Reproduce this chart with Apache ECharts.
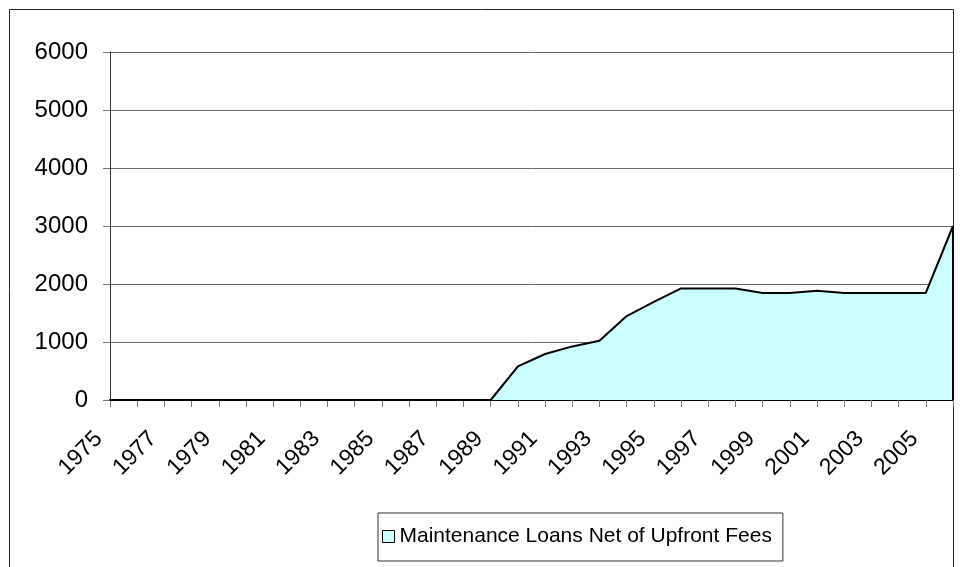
<!DOCTYPE html>
<html>
<head>
<meta charset="utf-8">
<script src="https://cdn.jsdelivr.net/npm/echarts@6/dist/echarts.min.js"></script>
<style>
html,body{margin:0;padding:0;background:#fff;}
#chart{width:960px;height:567px;}
</style>
</head>
<body>
<div id="chart"></div>
<script>
const years = ['1975','1976','1977','1978','1979','1980','1981','1982','1983','1984','1985','1986','1987','1988','1989','1990','1991','1992','1993','1994','1995','1996','1997','1998','1999','2000','2001','2002','2003','2004','2005','2006'];
const loanValues = [0,0,0,0,0,0,0,0,0,0,0,0,0,0,0,580,793,924,1022,1448,1690,1924,1924,1924,1845,1845,1884,1845,1845,1845,1845,3000];
const seriesName = 'Maintenance Loans Net of Upfront Fees';
const yTicks = {min:0, max:6000, interval:1000};

const font = '"Liberation Sans", Arial, sans-serif';
const chart = echarts.init(document.getElementById('chart'), null, {renderer:'canvas'});
const lastIdx = years.length - 1;
chart.setOption({
  animation:false,
  backgroundColor:'#fff',
  graphic:[{
    type:'rect', silent:true, z:-1,
    shape:{x:9.5, y:9.5, width:944, height:620},
    style:{fill:'none', stroke:'#222', lineWidth:1}
  }],
  grid:{left:110, right:7, top:52, bottom:167, containLabel:false},
  legend:{
    left:378, top:513,
    padding:[13,11,14,4],
    borderColor:'#333', borderWidth:1,
    icon:'rect', itemWidth:12, itemHeight:12, itemGap:5,
    textStyle:{fontFamily:font, fontSize:21, color:'#000'},
    data:[{name:seriesName, itemStyle:{color:'#CCFFFF', borderColor:'#000', borderWidth:1}}]
  },
  xAxis:{
    type:'category', data:years, boundaryGap:false,
    axisLine:{show:true, onZero:true, lineStyle:{color:'#000', width:2}},
    axisTick:{show:true, interval:0, length:7, lineStyle:{color:'#777', width:1}},
    axisLabel:{interval:1, rotate:45, margin:24, padding:[0,16,0,0], hideOverlap:false,
      fontFamily:font, fontSize:23, color:'#000'},
    splitLine:{show:false}
  },
  yAxis:{
    type:'value', min:yTicks.min, max:yTicks.max, interval:yTicks.interval,
    axisLine:{show:true, lineStyle:{color:'#333', width:1}},
    axisTick:{show:true, inside:false, length:7, lineStyle:{color:'#777'}},
    axisLabel:{margin:22, fontFamily:font, fontSize:24, color:'#000', formatter:v => String(v)},
    splitLine:{show:true, lineStyle:{color:'#666', width:1}}
  },
  series:[{
    name:seriesName, type:'line', data:loanValues,
    symbol:'none', smooth:false,
    lineStyle:{color:'#000', width:2},
    itemStyle:{color:'#CCFFFF', borderColor:'#000'},
    areaStyle:{color:'#CCFFFF', opacity:1},
    markLine:{silent:true, symbol:'none', label:{show:false},
      lineStyle:{color:'#000', width:2, type:'solid'},
      data:[[{coord:[years[lastIdx], 0]},{coord:[years[lastIdx], loanValues[lastIdx]]}]]}
  }]
});
</script>
</body>
</html>
